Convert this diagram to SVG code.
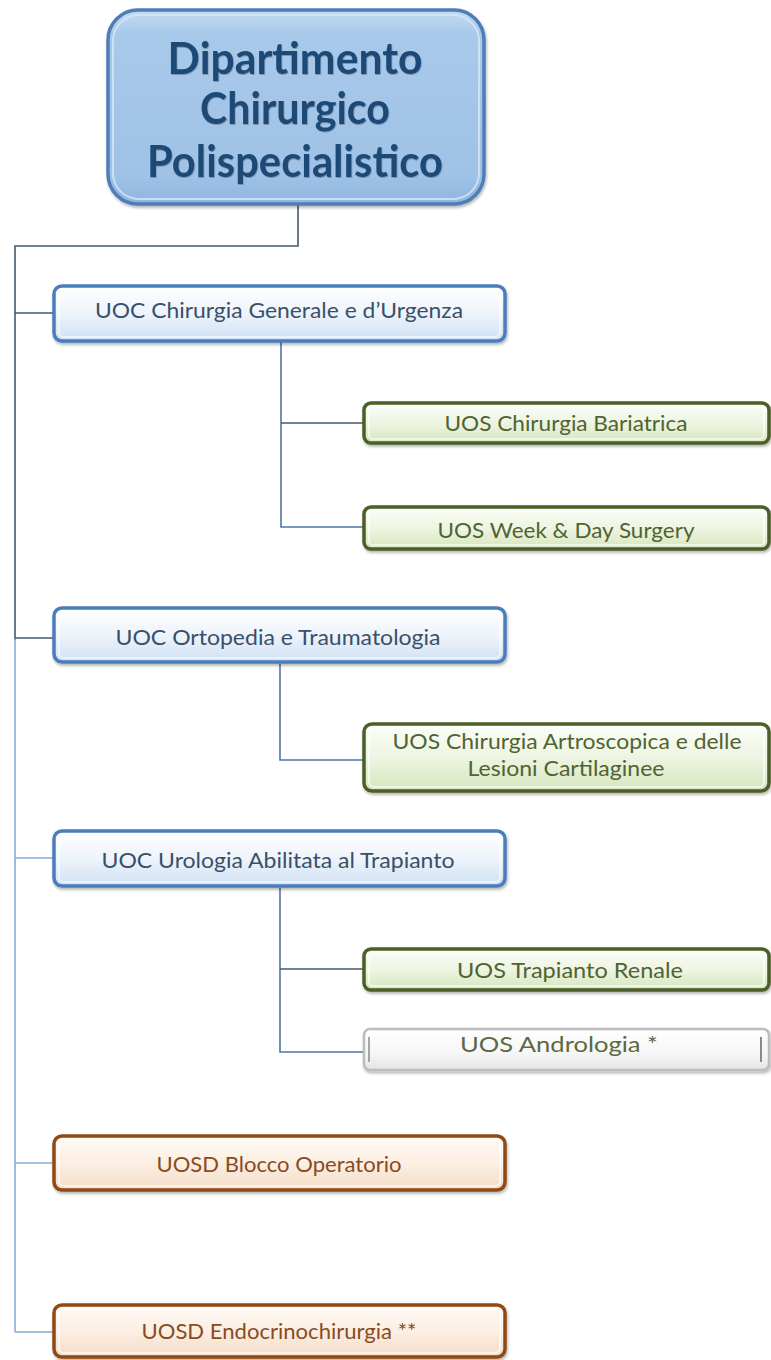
<svg xmlns="http://www.w3.org/2000/svg" width="771" height="1360" viewBox="0 0 771 1360">
  <defs>
    <linearGradient id="gTitle" x1="0" y1="0" x2="0" y2="1">
      <stop offset="0" stop-color="#c3dbf2"/>
      <stop offset="0.12" stop-color="#a9c9ea"/>
      <stop offset="0.85" stop-color="#9fc2e6"/>
      <stop offset="1" stop-color="#8fb5df"/>
    </linearGradient>
    <linearGradient id="gBlue" x1="0" y1="0" x2="0" y2="1">
      <stop offset="0" stop-color="#ffffff"/>
      <stop offset="0.5" stop-color="#eef4fb"/>
      <stop offset="1" stop-color="#cfe0f3"/>
    </linearGradient>
    <linearGradient id="gGreen" x1="0" y1="0" x2="0" y2="1">
      <stop offset="0" stop-color="#fbfdf7"/>
      <stop offset="0.5" stop-color="#eef5e2"/>
      <stop offset="1" stop-color="#d6e5bd"/>
    </linearGradient>
    <linearGradient id="gGray" x1="0" y1="0" x2="0" y2="1">
      <stop offset="0" stop-color="#ffffff"/>
      <stop offset="0.6" stop-color="#f6f6f6"/>
      <stop offset="1" stop-color="#e4e4e4"/>
    </linearGradient>
    <linearGradient id="gOrange" x1="0" y1="0" x2="0" y2="1">
      <stop offset="0" stop-color="#fffaf5"/>
      <stop offset="0.5" stop-color="#fcefe3"/>
      <stop offset="1" stop-color="#f3dcc6"/>
    </linearGradient>
    <filter id="shadow" x="-5%" y="-20%" width="110%" height="150%">
      <feDropShadow dx="1" dy="2" stdDeviation="1.6" flood-color="#000" flood-opacity="0.3"/>
    </filter>
    <filter id="textShadow" x="-5%" y="-20%" width="110%" height="150%">
      <feDropShadow dx="0.6" dy="1" stdDeviation="0.6" flood-color="#000" flood-opacity="0.25"/>
    </filter>
  </defs>
  <style>
    text { font-family: Lato, "Open Sans", "Liberation Sans", sans-serif; text-anchor: middle; }
    .title { font-size: 43px; font-weight: bold; fill: #1e4a74; }
    .lbl { font-size: 21px; }
    .uoc rect.box { fill: url(#gBlue); stroke: #4a7ebb; stroke-width: 3.5; }
    .uoc rect.rim { fill: none; stroke: #ffffff; stroke-opacity: 0.7; stroke-width: 1.5; }
    .uoc text { fill: #38506b; }
    .uos rect.box { fill: url(#gGreen); stroke: #4b5e27; stroke-width: 3.5; }
    .uos rect.rim { fill: none; stroke: #ffffff; stroke-opacity: 0.8; stroke-width: 1.5; }
    .uos text { fill: #506332; }
    .uosg rect.box { fill: url(#gGray); stroke: #bdbdbd; stroke-width: 2.5; }
    .uosg text { fill: #5a6a42; }
    .uosd rect.box { fill: url(#gOrange); stroke: #8f4a12; stroke-width: 3.5; }
    .uosd rect.rim { fill: none; stroke: #ffffff; stroke-opacity: 0.8; stroke-width: 1.5; }
    .uosd text { fill: #8a4b22; }
    .edge { fill: none; stroke-width: 1.6; }
    .dark { stroke: #46596e; }
    .mid { stroke: #4f77a6; }
    .light { stroke: #86addb; }
  </style>

  <!-- connectors -->
  <g id="connectors">
    <polyline class="edge dark" points="298,205 298,246 15,246 15,640"/>
    <line class="edge light" x1="15" y1="638" x2="15" y2="1332"/>
    <line class="edge dark" x1="15" y1="313" x2="54" y2="313"/>
    <line class="edge dark" x1="15" y1="638" x2="54" y2="638"/>
    <line class="edge light" x1="15" y1="858" x2="54" y2="858"/>
    <line class="edge light" x1="15" y1="1163" x2="54" y2="1163"/>
    <line class="edge light" x1="15" y1="1332" x2="54" y2="1332"/>

    <polyline class="edge mid" points="281,342 281,527 364,527"/>
    <line class="edge dark" x1="281" y1="423" x2="364" y2="423"/>
    <polyline class="edge mid" points="280,662 280,760 364,760"/>
    <polyline class="edge mid" points="280,887 280,1052 364,1052"/>
    <line class="edge dark" x1="280" y1="969" x2="364" y2="969"/>
  </g>

  <!-- department -->
  <g id="dipartimento">
    <rect x="108" y="10" width="376" height="194" rx="30" fill="url(#gTitle)" stroke="#4f7db8" stroke-width="3.5" filter="url(#shadow)"/>
    <rect x="113" y="15" width="366" height="184" rx="26" fill="none" stroke="#d6e7f7" stroke-opacity="0.8" stroke-width="2"/>
    <g filter="url(#textShadow)">
      <text class="title" x="295" y="74" textLength="255" lengthAdjust="spacingAndGlyphs">Dipartimento</text>
      <text class="title" x="295" y="124" textLength="190" lengthAdjust="spacingAndGlyphs">Chirurgico</text>
      <text class="title" x="295" y="177" textLength="296" lengthAdjust="spacingAndGlyphs">Polispecialistico</text>
    </g>
  </g>

  <!-- UOC Chirurgia Generale e d'Urgenza -->
  <g id="uoc-chirurgia" class="uoc">
    <rect class="box" x="54" y="286" width="451" height="55" rx="8" filter="url(#shadow)"/>
    <rect class="rim" x="59" y="290" width="441" height="47" rx="5"/>
    <text class="lbl" x="279" y="318" textLength="368" lengthAdjust="spacingAndGlyphs">UOC Chirurgia Generale e d’Urgenza</text>
  </g>

  <g id="uos-bariatrica" class="uos">
    <rect class="box" x="364" y="403" width="405" height="40" rx="7" filter="url(#shadow)"/>
    <rect class="rim" x="369" y="407" width="395" height="32" rx="4"/>
    <text class="lbl" x="566" y="431" textLength="243" lengthAdjust="spacingAndGlyphs">UOS Chirurgia Bariatrica</text>
  </g>

  <g id="uos-week-day" class="uos">
    <rect class="box" x="364" y="507" width="405" height="42" rx="7" filter="url(#shadow)"/>
    <rect class="rim" x="369" y="511" width="395" height="34" rx="4"/>
    <text class="lbl" x="566" y="538" textLength="257" lengthAdjust="spacingAndGlyphs">UOS Week &amp; Day Surgery</text>
  </g>

  <!-- UOC Ortopedia e Traumatologia -->
  <g id="uoc-ortopedia" class="uoc">
    <rect class="box" x="54" y="608" width="451" height="54" rx="8" filter="url(#shadow)"/>
    <rect class="rim" x="59" y="612" width="441" height="46" rx="5"/>
    <text class="lbl" x="278" y="645" textLength="325" lengthAdjust="spacingAndGlyphs">UOC Ortopedia e Traumatologia</text>
  </g>

  <g id="uos-artroscopica" class="uos">
    <rect class="box" x="364" y="724" width="405" height="67" rx="8" filter="url(#shadow)"/>
    <rect class="rim" x="369" y="728" width="395" height="59" rx="5"/>
    <text class="lbl" x="567" y="749" textLength="349" lengthAdjust="spacingAndGlyphs">UOS Chirurgia Artroscopica e delle</text>
    <text class="lbl" x="566" y="776" textLength="197" lengthAdjust="spacingAndGlyphs">Lesioni Cartilaginee</text>
  </g>

  <!-- UOC Urologia Abilitata al Trapianto -->
  <g id="uoc-urologia" class="uoc">
    <rect class="box" x="54" y="831" width="451" height="55" rx="8" filter="url(#shadow)"/>
    <rect class="rim" x="59" y="835" width="441" height="47" rx="5"/>
    <text class="lbl" x="278" y="868" textLength="353" lengthAdjust="spacingAndGlyphs">UOC Urologia Abilitata al Trapianto</text>
  </g>

  <g id="uos-trapianto-renale" class="uos">
    <rect class="box" x="364" y="949" width="405" height="41" rx="7" filter="url(#shadow)"/>
    <rect class="rim" x="369" y="953" width="395" height="33" rx="4"/>
    <text class="lbl" x="570" y="978" textLength="226" lengthAdjust="spacingAndGlyphs">UOS Trapianto Renale</text>
  </g>

  <g id="uos-andrologia" class="uosg">
    <rect class="box" x="364" y="1029" width="405" height="41" rx="6" filter="url(#shadow)"/>
    <line x1="369" y1="1037" x2="369" y2="1062" stroke="#8a8a8a" stroke-width="1.5"/>
    <line x1="761" y1="1037" x2="761" y2="1062" stroke="#8a8a8a" stroke-width="2"/>
    <text class="lbl" x="559" y="1052" textLength="198" lengthAdjust="spacingAndGlyphs">UOS Andrologia *</text>
  </g>

  <!-- UOSD -->
  <g id="uosd-blocco" class="uosd">
    <rect class="box" x="54" y="1136" width="451" height="54" rx="8" filter="url(#shadow)"/>
    <rect class="rim" x="59" y="1140" width="441" height="46" rx="5"/>
    <text class="lbl" x="279" y="1172" textLength="245" lengthAdjust="spacingAndGlyphs">UOSD Blocco Operatorio</text>
  </g>

  <g id="uosd-endocrinochirurgia" class="uosd">
    <rect class="box" x="54" y="1305" width="451" height="52" rx="8" filter="url(#shadow)"/>
    <rect class="rim" x="59" y="1309" width="441" height="44" rx="5"/>
    <text class="lbl" x="279" y="1339" textLength="275" lengthAdjust="spacingAndGlyphs">UOSD Endocrinochirurgia **</text>
  </g>
</svg>
